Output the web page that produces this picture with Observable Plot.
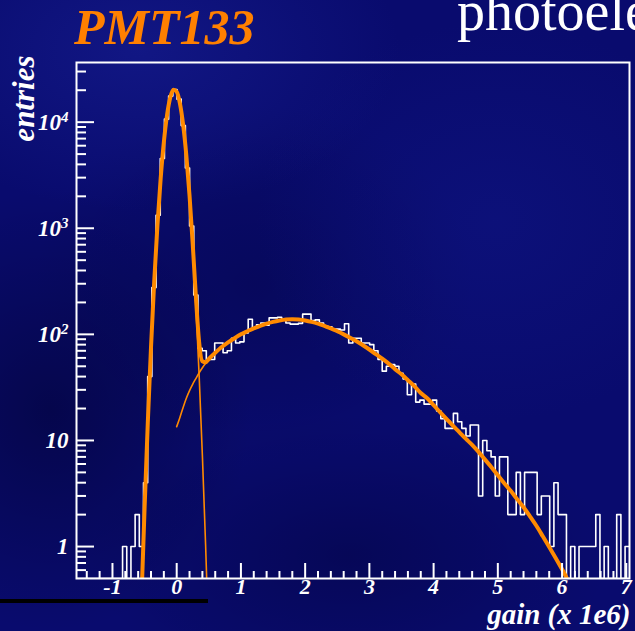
<!DOCTYPE html>
<html><head><meta charset="utf-8">
<script src="https://cdn.jsdelivr.net/npm/d3@7"></script>
<script src="https://cdn.jsdelivr.net/npm/@observablehq/plot@0.6"></script>
<style>
html,body{margin:0;padding:0;width:635px;height:631px;overflow:hidden;}
body{position:relative;background-color:#090b6e;
 background-image:
  radial-gradient(ellipse 260px 160px at 22% 8%, rgba(30,40,165,0.40), transparent),
  radial-gradient(ellipse 240px 200px at 78% 35%, rgba(20,30,150,0.28), transparent),
  radial-gradient(ellipse 200px 220px at 8% 65%, rgba(0,0,35,0.45), transparent),
  radial-gradient(ellipse 260px 140px at 55% 88%, rgba(0,0,45,0.35), transparent),
  radial-gradient(ellipse 220px 180px at 40% 45%, rgba(0,0,40,0.25), transparent);
 font-family:"Liberation Serif",serif;}
#rule{position:absolute;left:0;top:599px;width:208px;height:4px;background:#000;}
#chart{position:absolute;left:0;top:0;}
#title{position:absolute;left:74px;top:2px;font:italic bold 50px "Liberation Serif",serif;color:#ff8000;line-height:1;white-space:nowrap;}
#sub{position:absolute;left:457px;top:-17px;font:56px "Liberation Serif",serif;color:#fff;line-height:1;white-space:nowrap;}
</style></head><body>
<div id="rule"></div>
<div id="chart"></div>
<div id="title">PMT133</div>
<div id="sub">photoelectron</div>
<script>
const W = 635, H = 631, mL = 76, mR = 6, mT = 62, mB = 53;
const innerW = W - mL - mR, innerH = H - mT - mB;
const xDomain = [-1.56, 7.05];
const yDomain = [0.5, 36500];
const orange = "#ff8a00";

// histogram: 132 bins starting at -1.56, width 0.0652 (gain x 1e6)
const binStart = -1.56, binWidth = 0.0652;
const counts = [
  0,0,0,0,0,0,0,0,0,0,0,
  1,0,1,2,1,4,40,276,1326,4540,10675,17600,20340,16480,9280,3700,1050,235,74,70,
  58,58,83,83,67,70,92,83,85,103,139,115,123,128,122,143,143,145,140,128,
  125,125,127,155,155,135,137,128,120,118,112,112,110,126,83,92,92,83,83,80,
  70,58,45,50,52,50,43,38,27,34,23,24,22,22,24,19,16,13,13,18,
  15,13,11,14,14,3,10,8,7,3,7,7,2,2,5,2,5,5,5,2,
  3,3,1,4,2,2,0,1,0,1,1,1,1,2,0,1,0,0,2,0,1
];

// pedestal fit (thin)
const pedGain = [-0.55,-0.50,-0.45,-0.40,-0.35,-0.30,-0.25,-0.20,-0.15,-0.10,-0.05,0.00,0.05,0.10,0.15,0.20,0.25,0.30,0.35,0.40,0.45,0.50];
const pedFit  = [0.30,2.3,14.7,75.5,315,1066,2921,6488,11687,17056,20178,19348,15037,9472,4836,2001,671,182,40.2,7.2,1.04,0.12];

// single photoelectron fit (thin)
const speGain = [0.00,0.05,0.10,0.15,0.20,0.25,0.30,0.35,0.40,0.45,0.50,
  0.6,0.7,0.8,0.9,1.0,1.1,1.2,1.3,1.4,1.5,1.6,1.7,1.8,1.9,2.0,2.1,2.2,2.3,2.4,2.5,
  2.6,2.7,2.8,2.9,3.0,3.1,3.2,3.3,3.4,3.5,3.6,3.7,3.8,3.9,4.0,4.1,4.2,4.3,4.4,4.5,
  4.6,4.7,4.8,4.9,5.0,5.1,5.2,5.3,5.4,5.5,5.6,5.7,5.8,5.9,6.0,6.1];
const speFit = [13.5,16.5,20.5,25,29.5,34,38.5,43.5,48.5,53.5,58.5,
  67,76,84,92,100,107,114,120,126,131,135,138,139,138,135,131,126,120,114,107,
  100,93,86,79,72,65,59,53,47,42,37,32.5,28,25,21.5,18.5,16,13.8,12,10.4,
  9.1,7.8,6.6,5.6,4.7,3.95,3.35,2.8,2.35,1.93,1.57,1.25,0.99,0.78,0.61,0.47];

const xMajor = [-1,0,1,2,3,4,5,6,7];
const xLabels = ["-1","0","1","2","3","4","5","6","7"];
const xMinor = [-1.4,-1.2,-0.8,-0.6,-0.4,-0.2,0.2,0.4,0.6,0.8,1.2,1.4,1.6,1.8,2.2,2.4,2.6,2.8,3.2,3.4,3.6,3.8,4.2,4.4,4.6,4.8,5.2,5.4,5.6,5.8,6.2,6.4,6.6,6.8];
const yMajor = [1,10,100,1000,10000];
const yLabels = ["1","10","10²","10³","10⁴"];
const yMinor = [0.6,0.7,0.8,0.9,2,3,4,5,6,7,8,9,20,30,40,50,60,70,80,90,200,300,400,500,600,700,800,900,2000,3000,4000,5000,6000,7000,8000,9000,20000,30000];

const hist = counts.map((c, k) => ({gain: binStart + k * binWidth, n: c}));
hist.push({gain: binStart + counts.length * binWidth, n: counts[counts.length - 1]});

const ped = pedGain.map((g, i) => ({gain: g, v: pedFit[i]}));
const spe = speGain.map((g, i) => ({gain: g, v: speFit[i]}));
const key = v => v.toFixed(2);
const pedMap = new Map(pedGain.map((g, i) => [key(g), pedFit[i]]));
const speMap = new Map(speGain.map((g, i) => [key(g), speFit[i]]));
const allKeys = Array.from(new Set([...pedGain, ...speGain].map(key))).map(Number).sort((a, b) => a - b);
const total = allKeys.map(g => ({gain: g, v: (pedMap.get(key(g)) || 0) + (speMap.get(key(g)) || 0)}));

const font = {fontFamily: "Liberation Serif", fontWeight: "bold", fontStyle: "italic", fill: "white"};

const chart = Plot.plot({
  width: W, height: H,
  marginLeft: mL, marginRight: mR, marginTop: mT, marginBottom: mB,
  style: {background: "transparent", color: "white", overflow: "visible"},
  x: {domain: xDomain, axis: null},
  y: {type: "log", domain: yDomain, axis: null},
  marks: [
    Plot.line(hist, {x: "gain", y: d => d.n > 0 ? d.n : yDomain[0], curve: "step-after", stroke: "white", strokeWidth: 1.6, clip: true}),
    Plot.line(ped, {x: "gain", y: "v", curve: "monotone-x", stroke: orange, strokeWidth: 1.6, clip: true}),
    Plot.line(spe, {x: "gain", y: "v", curve: "monotone-x", stroke: orange, strokeWidth: 1.6, clip: true}),
    Plot.line(total, {x: "gain", y: "v", curve: "monotone-x", stroke: orange, strokeWidth: 4, clip: true}),
    Plot.tickY(yMajor, {y: d => d, stroke: "white", strokeWidth: 2, insetRight: innerW - 18}),
    Plot.tickY(yMinor, {y: d => d, stroke: "white", strokeWidth: 2, insetRight: innerW - 10}),
    Plot.tickX(xMajor, {x: d => d, stroke: "white", strokeWidth: 2, insetTop: innerH - 15}),
    Plot.tickX(xMinor, {x: d => d, stroke: "white", strokeWidth: 2, insetTop: innerH - 7}),
    Plot.frame({stroke: "white", strokeWidth: 2}),
    Plot.text(yMajor, {y: d => d, text: (d, i) => yLabels[i], frameAnchor: "left", textAnchor: "end", dx: -8, fontSize: 23, ...font}),
    Plot.text(xMajor, {x: d => d, text: (d, i) => xLabels[i], frameAnchor: "bottom", dy: 15, fontSize: 22, ...font}),
    Plot.text(["entries"], {text: d => d, frameAnchor: "top-left", rotate: -90, textAnchor: "end", lineAnchor: "bottom", dx: -43, dy: -7, fontSize: 31, ...font}),
    Plot.text(["gain (x 1e6)"], {text: d => d, frameAnchor: "bottom-right", textAnchor: "end", lineAnchor: "bottom", dx: 1, dy: 45, fontSize: 29, ...font})
  ]
});
document.getElementById("chart").appendChild(chart);

// superscript exponents on the y tick labels
const sup = {"²": "2", "³": "3", "⁴": "4"};
chart.querySelectorAll("text").forEach(t => {
  const s = t.textContent;
  if (/^10[²³⁴]$/.test(s)) {
    t.textContent = "10";
    const ts = document.createElementNS("http://www.w3.org/2000/svg", "tspan");
    ts.setAttribute("dy", "-8");
    ts.setAttribute("font-size", "15");
    ts.textContent = sup[s[2]];
    t.appendChild(ts);
  }
});
</script></body></html>
